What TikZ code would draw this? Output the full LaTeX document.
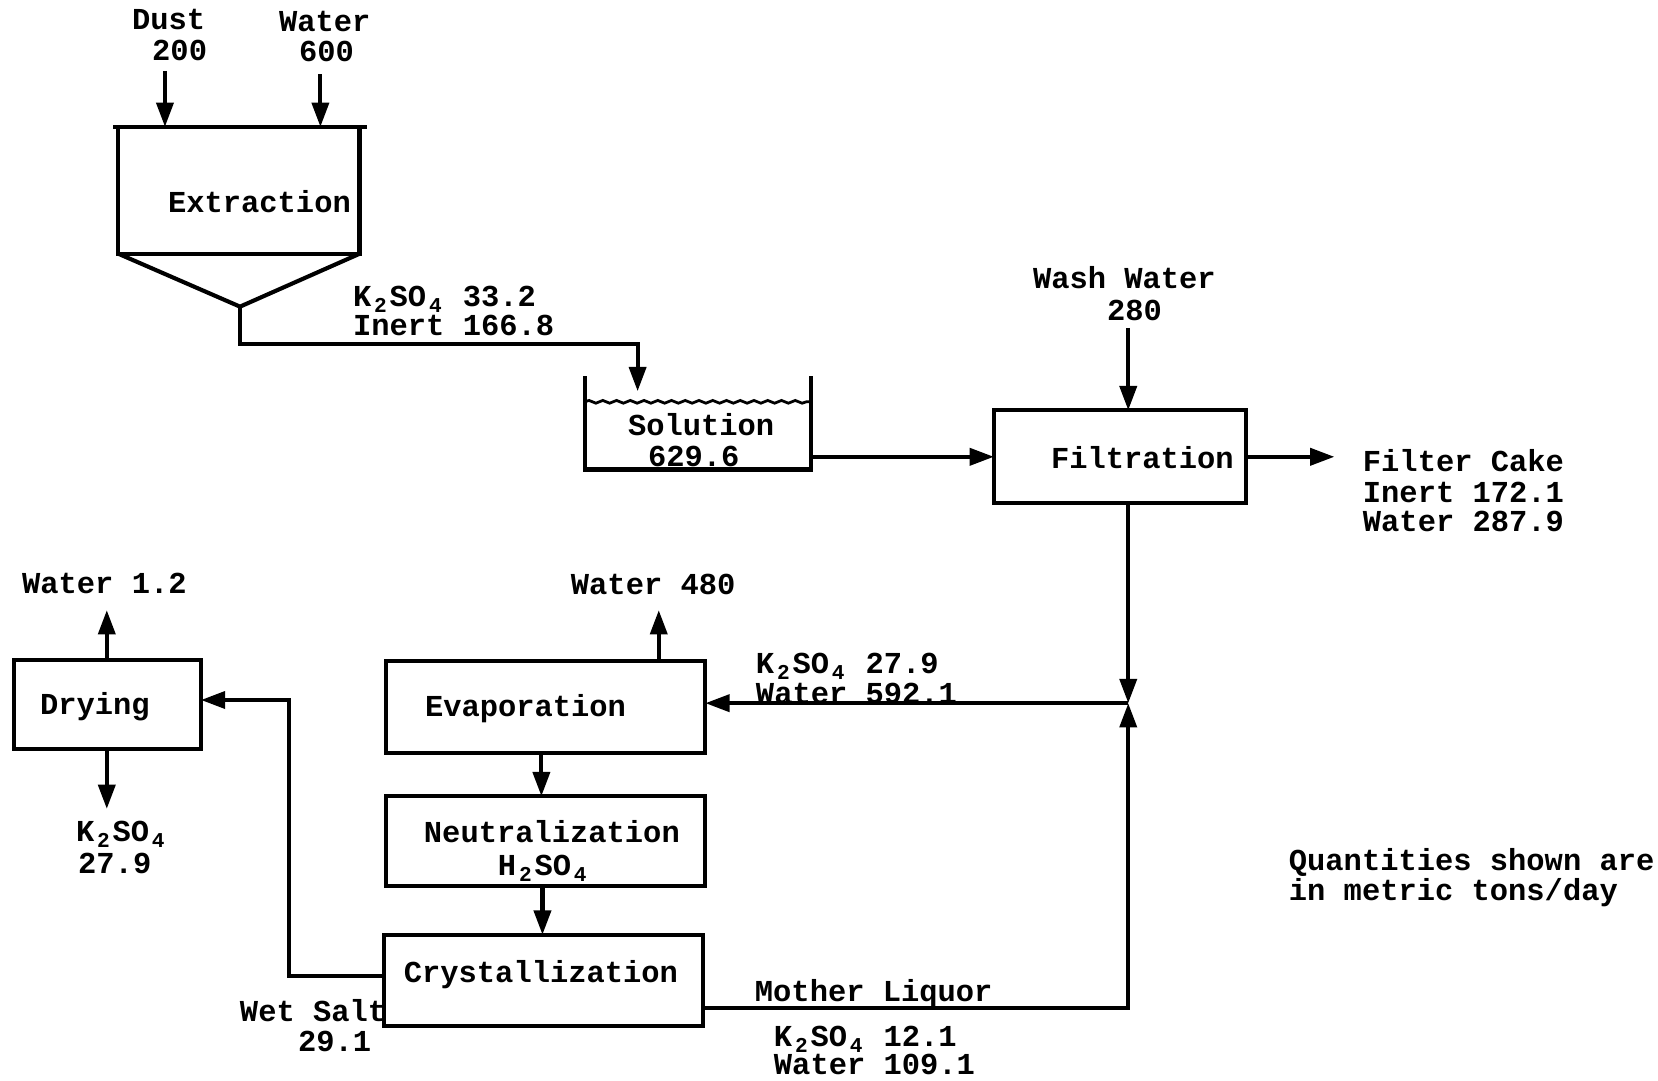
\documentclass[tikz,border=0pt]{standalone}
\usepackage{fontspec}
\setmainfont{Liberation Mono}
\usetikzlibrary{arrows.meta,decorations.pathmorphing}
\newcommand{\sbs}[1]{\raisebox{-0.35ex}{\makebox[0.6em][c]{\fontsize{20}{20}\selectfont\bfseries #1}}}
\begin{document}
\begin{tikzpicture}[x=1pt,y=-1pt,line width=3.9pt,
  font=\fontsize{28.8}{30}\selectfont\bfseries,
  arr/.style={-{Triangle[length=23pt,width=16pt]}},
  unit/.style={draw,rectangle,inner sep=0pt,outer sep=0pt},
  lbl/.style={inner sep=0pt,anchor=west,text height=19pt,text depth=3pt}]
\useasboundingbox (0,0) rectangle (1568,1022);
% ---------- Extraction vessel ----------
\coordinate (extTL) at (112,120);
\coordinate (extTR) at (340,120);
\coordinate (extBL) at (112,240);
\coordinate (extBR) at (340,240);
\coordinate (apex) at (227,290);
\draw (107,120) -- (347,120);
\draw (extTL) -- (extBL) -- (extBR) -- (extTR);
\draw (extBL) -- (apex) -- (extBR);
\node[lbl] (textr) at (157,193) {Extraction};
% feeds
\node[lbl] (tdust) at (123,20) {Dust};
\node[lbl] (tdustn) at (142,49) {200};
\node[lbl] (twat) at (262,22) {Water};
\node[lbl] (twatn) at (281,50) {600};
\coordinate (dustS) at (156,67);
\coordinate (watS) at (303,70);
\draw[arr] (dustS) -- (dustS |- extTL);
\draw[arr] (watS) -- (watS |- extTL);
% ---------- Solution tank ----------
\coordinate (tankTL) at (553,356);
\coordinate (tankBL) at (553,444);
\coordinate (tankBR) at (767,444);
\coordinate (tankTR) at (767,356);
\draw (tankTL) -- (tankBL) -- (tankBR) -- (tankTR);
\draw[line width=2.6pt,decorate,decoration={snake,amplitude=1.3pt,segment length=13pt}] (553,380) -- (767,380);
\node[lbl] (tsol) at (592,404) {Solution};
\node[lbl] (tsoln) at (611,433) {629.6};
\coordinate (tankIn) at (603,370);
\draw[arr] (apex) -- (227,325) -- (603,325) -- (tankIn);
\node[lbl] (tk1) at (332,282) {K\sbs{2}SO\sbs{4} 33.2};
\node[lbl] (tk2) at (332,309) {Inert 166.8};
% ---------- Filtration ----------
\node[unit,minimum width=238pt,minimum height=88pt] (filt) at (1059,432) {};
\node[lbl] (tfilt) at (992,435) {Filtration};
\draw[arr] (767,432) -- (filt.west);
\node[lbl] (twash) at (975,265) {Wash Water};
\node[lbl] (twashn) at (1045,295) {280};
\coordinate (washS) at (1067,310);
\draw[arr] (washS) -- (washS |- filt.north);
\coordinate (cakeE) at (1262,432);
\draw[arr] (filt.east) -- (cakeE);
\node[lbl] (tcake1) at (1287,438) {Filter Cake};
\node[lbl] (tcake2) at (1287,467) {Inert 172.1};
\node[lbl] (tcake3) at (1287,495) {Water 287.9};
% ---------- lower units ----------
\node[unit,minimum width=177pt,minimum height=84pt] (dry) at (101.5,666) {};
\node[lbl] (tdry) at (36,668) {Drying};
\node[unit,minimum width=302pt,minimum height=87pt] (evap) at (516,668.5) {};
\node[lbl] (tevap) at (400,670) {Evaporation};
\node[unit,minimum width=302pt,minimum height=85pt] (neut) at (516,795.5) {};
\node[lbl] (tneut) at (399,789) {Neutralization};
\node[lbl] (tneut2) at (469,820) {H\sbs{2}SO\sbs{4}};
\node[unit,minimum width=302pt,minimum height=86pt] (cryst) at (514,927) {};
\node[lbl] (tcryst) at (380,921) {Crystallization};
% junction and recycle
\coordinate (junc) at (1067,665);
\coordinate (mlC) at (1067,953);
\draw[arr] (filt.south -| junc) -- (junc);
\draw[arr] (cryst.east |- mlC) -- (mlC) -- (junc);
\draw[arr] (junc) -- (evap.east |- junc);
\node[lbl] (tr1) at (713,629) {K\sbs{2}SO\sbs{4} 27.9};
\node[lbl] (tr2) at (713,657) {Water 592.1};
\node[lbl] (tml) at (712,939) {Mother Liquor};
\node[lbl] (tml1) at (730,982) {K\sbs{2}SO\sbs{4} 12.1};
\node[lbl] (tml2) at (730,1008) {Water 109.1};
% evaporation vapour
\coordinate (evW) at (623,577);
\draw[arr] (evap.north -| evW) -- (evW);
\node[lbl] (tev) at (538,554) {Water 480};
% stack arrows
\draw[arr] (evap.south -| 512,0) -- (neut.north -| 512,0);
\draw[arr] (neut.south -| 513,0) -- (cryst.north -| 513,0);
% wet salt to drying
\coordinate (wsC) at (273,923);
\draw[arr] (cryst.west |- wsC) -- (wsC) -- (273,662) -- (dry.east |- 0,662);
\node[lbl] (tws) at (225,958) {Wet Salt};
\node[lbl] (twsn) at (280,986) {29.1};
% drying outputs
\coordinate (dryUp) at (101,577);
\coordinate (dryDn) at (101,765);
\draw[arr] (dry.north -| dryUp) -- (dryUp);
\draw[arr] (dry.south -| dryDn) -- (dryDn);
\node[lbl] (tdw) at (19,553) {Water 1.2};
\node[lbl] (tdk) at (70,788) {K\sbs{2}SO\sbs{4}};
\node[lbl] (tdkn) at (72,818) {27.9};
% note
\node[lbl] (tq1) at (1217,815) {Quantities shown are};
\node[lbl] (tq2) at (1217,844) {in metric tons/day};
\end{tikzpicture}
\end{document}
